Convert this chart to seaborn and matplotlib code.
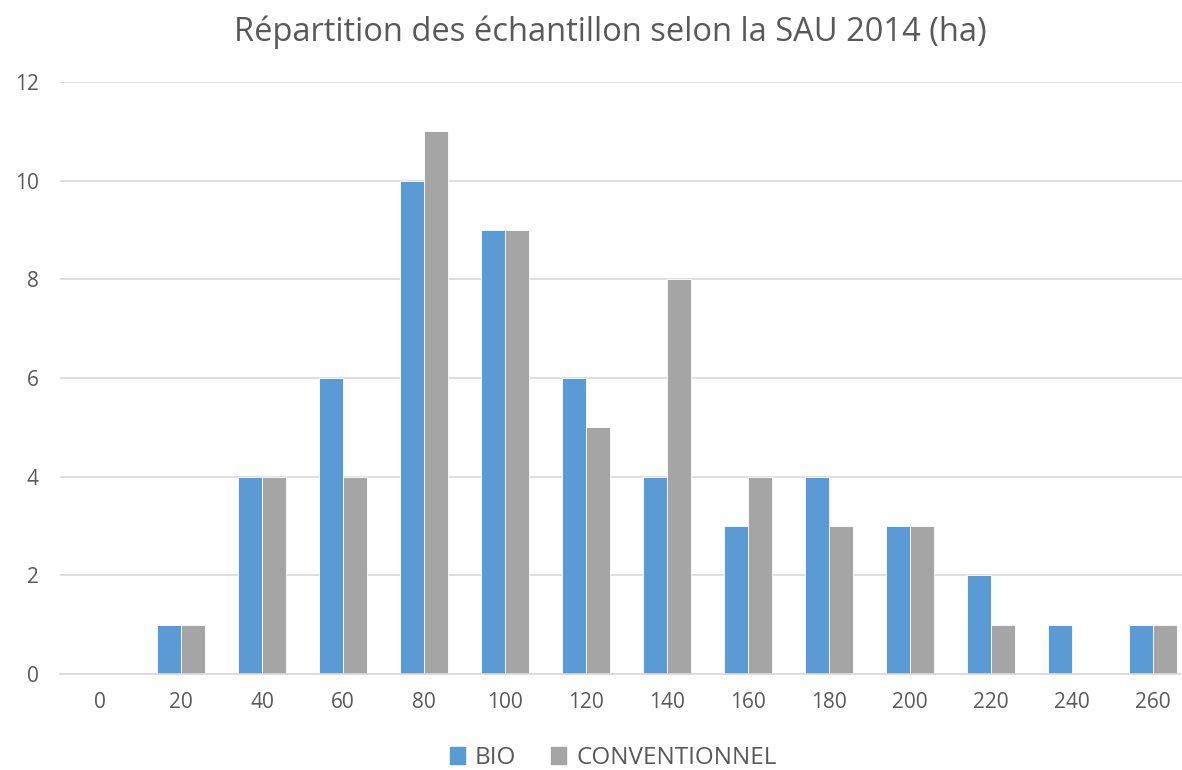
import pandas as pd
import numpy as np
import matplotlib
matplotlib.use("Agg")
import matplotlib.pyplot as plt
import seaborn as sns

# data
classes = ["0", "20", "40", "60", "80", "100", "120", "140", "160", "180", "200", "220", "240", "260"]
bio = [0, 1, 4, 6, 10, 9, 6, 4, 3, 4, 3, 2, 1, 1]
conventionnel = [0, 1, 4, 4, 11, 9, 5, 8, 4, 3, 3, 1, 0, 1]
series = ["BIO", "CONVENTIONNEL"]
colors = ["#5B9BD5", "#A5A5A5"]

df = pd.DataFrame({
    "classe": classes * 2,
    "n": bio + conventionnel,
    "serie": [series[0]] * len(classes) + [series[1]] * len(classes),
})

sns.set_style("white")
plt.rcParams["font.family"] = ["Open Sans", "DejaVu Sans"]

W, H = 1182, 770
fig = plt.figure(figsize=(W / 100, H / 100), dpi=100)
left, right, bottom, top = 59.5, 1193.5, 674, 82
ax = fig.add_axes([left / W, (H - bottom) / H, (right - left) / W, (bottom - top) / H])

sns.barplot(data=df, x="classe", y="n", hue="serie", order=classes, hue_order=series,
            palette=colors, width=0.6, gap=0, saturation=1, edgecolor="white",
            linewidth=0.6, errorbar=None, legend=False, ax=ax)

ax.set_xlim(-0.5, len(classes) - 0.5)
ax.set_ylim(0, 12)
ax.set_yticks(range(0, 13, 2))
ax.yaxis.grid(True, color="#D9D9D9", linewidth=1.2)
ax.set_axisbelow(True)
for s in ["top", "right", "left"]:
    ax.spines[s].set_visible(False)
ax.spines["bottom"].set_color("#D9D9D9")
ax.spines["bottom"].set_linewidth(1.2)
ax.tick_params(axis="both", length=0, labelsize=15, colors="#595959")
ax.tick_params(axis="x", pad=13)
ax.tick_params(axis="y", pad=15)
ax.set_xlabel("")
ax.set_ylabel("")

fig.text(610 / W, 1 - 32 / H, "Répartition des échantillon selon la SAU 2014 (ha)",
         ha="center", va="center", fontsize=23.5, color="#595959")

handles = [plt.Rectangle((0, 0), 1, 1, color=c) for c in colors]
fig.legend(handles, series, loc="center", bbox_to_anchor=(613 / W, 1 - 758 / H), ncol=2,
           frameon=False, fontsize=17.5, handlelength=0.65, handleheight=0.65,
           handletextpad=0.4, columnspacing=1.4, labelcolor="#595959")

fig.savefig("out.png", dpi=100)
